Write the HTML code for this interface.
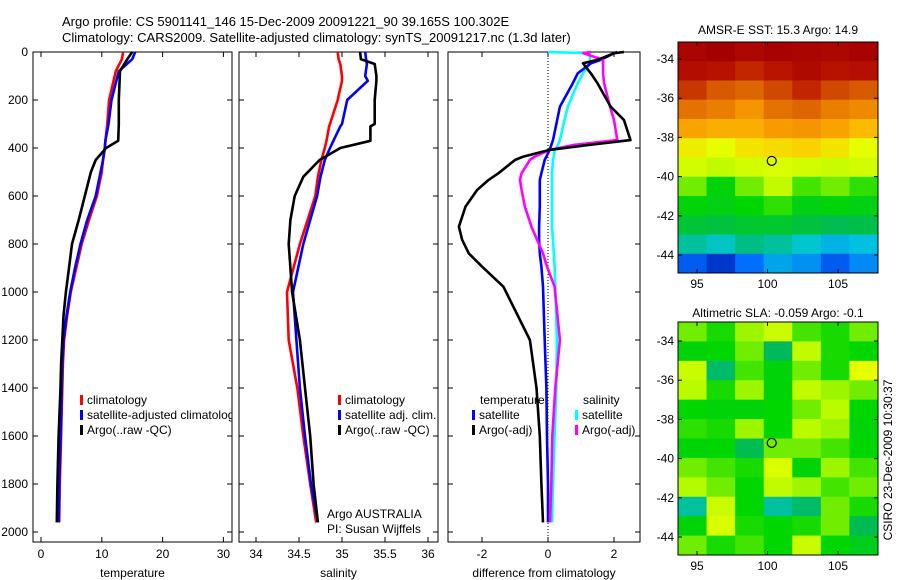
<!DOCTYPE html>
<html><head><meta charset="utf-8"><style>
body{margin:0;background:#fff;}
svg{display:block;font-family:"Liberation Sans",sans-serif;}
text{font-size:12px;fill:#000;}
</style></head><body>
<svg id="s" width="900" height="580">
<text x="62" y="26" style="font-size:13px">Argo profile: CS 5901141_146 15-Dec-2009 20091221_90 39.165S 100.302E</text>
<text x="62" y="42" style="font-size:13px">Climatology: CARS2009. Satellite-adjusted climatology: synTS_20091217.nc (1.3d later)</text>
<text x="778" y="34" text-anchor="middle">AMSR-E SST: 15.3 Argo: 14.9</text>
<text x="778" y="317" text-anchor="middle">Altimetric SLA: -0.059 Argo: -0.1</text>
<text transform="translate(892,460) rotate(-90)" text-anchor="middle">CSIRO 23-Dec-2009 10:30:37</text>
</svg>
<script>
// ---- data ----
const depthT=[0,30,80,200,300,370,400,450,500,600,700,800,900,1000,1100,1200,1300,1400,1600,1800,1960];
const tempClim=[13.5,13.3,12.3,11.2,10.9,10.6,10.5,10.2,10.0,9.2,7.9,6.7,5.8,4.9,4.3,3.8,3.6,3.5,3.3,3.1,3.0];
const tempSat=[15.5,15.0,12.8,11.6,11.1,10.6,10.5,10.2,9.8,9.0,7.6,6.5,5.6,4.8,4.2,3.7,3.5,3.4,3.2,3.0,2.9];
const tempArgo=[15.0,14.2,13.0,12.8,12.8,12.7,10.7,9.0,8.2,7.2,6.2,5.1,4.6,4.1,3.7,3.5,3.3,3.2,2.9,2.7,2.6];
const depthS=[0,30,50,100,120,200,300,310,370,400,450,520,600,700,800,1000,1200,1400,1600,1800,1960];
const salClim=[34.95,34.96,34.98,35.0,35.0,34.95,34.86,34.85,34.82,34.8,34.76,34.72,34.69,34.6,34.51,34.36,34.38,34.48,34.55,34.63,34.7];
const salSat=[35.27,35.28,35.29,35.27,35.3,35.06,35.0,34.98,34.9,34.86,34.8,34.75,34.71,34.63,34.55,34.43,34.47,34.51,34.57,34.64,34.72];
const salArgo=[35.21,35.22,35.38,35.4,35.4,35.38,35.38,35.33,35.33,34.98,34.74,34.55,34.45,34.4,34.38,34.42,34.51,34.57,34.63,34.67,34.72];
const depthD=[0,5,33,47,89,130,228,283,367,388,408,436,450,505,533,575,644,728,783,839,894,978,1200,1400,1600,1800,1960];
const diffArgoT=[2.3,2.0,1.5,1.06,1.3,1.5,1.9,2.3,2.5,1.2,0.05,-0.75,-1.0,-1.5,-1.8,-2.15,-2.5,-2.7,-2.6,-2.4,-2.0,-1.35,-0.55,-0.35,-0.25,-0.2,-0.15];
const diffArgoS=[1.3,1.07,1.67,1.67,1.67,1.7,1.88,2.0,2.1,0.75,0.05,-0.4,-0.55,-0.8,-0.85,-0.8,-0.7,-0.5,-0.33,-0.15,-0.03,0.2,0.36,0.22,0.13,0.1,0.06];
const diffSatT=[2.1,2.0,1.6,1.3,0.9,0.75,0.36,0.28,0.15,0.1,0.05,-0.05,-0.1,-0.2,-0.25,-0.25,-0.25,-0.27,-0.27,-0.25,-0.2,-0.15,-0.1,-0.05,-0.03,0,0];
const diffSatS=[0,1.27,1.27,1.27,1.06,0.9,0.6,0.5,0.36,0.3,0.2,0.18,0.15,0.12,0.12,0.12,0.12,0.12,0.15,0.18,0.2,0.22,0.27,0.25,0.2,0.15,0.12];
const depthTicks=[0,200,400,600,800,1000,1200,1400,1600,1800,2000];
const tempTicks=[0,10,20,30];
const salTicks=[34,34.5,35,35.5,36];
const diffTicks=[-2,0,2];
const latTicks=[-34,-36,-38,-40,-42,-44];
const lonTicks=[95,100,105];
const sstGrid=[
[0.98,1.0,0.97,0.99,0.98,0.97,0.99],
[0.95,0.93,0.9,0.92,0.96,0.93,0.94],
[0.88,0.84,0.82,0.86,0.9,0.86,0.84],
[0.8,0.78,0.74,0.8,0.82,0.78,0.76],
[0.72,0.7,0.7,0.73,0.74,0.72,0.68],
[0.62,0.6,0.63,0.64,0.65,0.63,0.6],
[0.57,0.55,0.57,0.58,0.57,0.56,0.57],
[0.5,0.44,0.5,0.55,0.48,0.5,0.47],
[0.44,0.43,0.45,0.47,0.43,0.44,0.43],
[0.39,0.38,0.4,0.4,0.38,0.36,0.37],
[0.3,0.27,0.32,0.3,0.26,0.22,0.24],
[0.1,0.06,0.12,0.2,0.17,0.1,0.16]];
const slaGrid=[
[0.5,0.46,0.52,0.56,0.48,0.46,0.5],
[0.44,0.45,0.5,0.35,0.55,0.46,0.45],
[0.56,0.34,0.48,0.44,0.5,0.46,0.6],
[0.54,0.46,0.52,0.44,0.55,0.52,0.5],
[0.45,0.44,0.44,0.45,0.5,0.54,0.45],
[0.47,0.46,0.52,0.45,0.54,0.52,0.44],
[0.44,0.45,0.36,0.5,0.5,0.48,0.45],
[0.5,0.48,0.46,0.58,0.44,0.52,0.48],
[0.53,0.5,0.45,0.55,0.52,0.48,0.5],
[0.3,0.56,0.45,0.3,0.34,0.5,0.46],
[0.44,0.58,0.46,0.45,0.46,0.5,0.36],
[0.5,0.46,0.48,0.45,0.56,0.45,0.42]];
const argoLon=100.3, argoLat=-39.2;

const NS='http://www.w3.org/2000/svg';
const svg=document.getElementById('s');
function mk(tag,attrs,parent){const e=document.createElementNS(NS,tag);for(const k in attrs)e.setAttribute(k,attrs[k]);(parent||svg).appendChild(e);return e;}
const Y0=52,Y1=542;
const yD=d=>Y0+d*48/200;
function panel(name,x0,x1,xf,ticks,showLabels,labelFmt,xlabel){
  const g=mk('g',{});
  
  
  mk('rect',{x:x0,y:Y0,width:x1-x0,height:Y1-Y0,fill:'#fff',stroke:'#000','stroke-width':1},g);
  depthTicks.forEach(d=>{const y=yD(d);
    mk('line',{x1:x0,x2:x0+5,y1:y,y2:y,stroke:'#000'},g);
    mk('line',{x1:x1,x2:x1-5,y1:y,y2:y,stroke:'#000'},g);
    if(showLabels){const t=mk('text',{x:28,y:y+4,'text-anchor':'end'},g);t.textContent=d;
      
      }
  });
  ticks.forEach(v=>{const x=xf(v);
    mk('line',{x1:x,x2:x,y1:Y1,y2:Y1-5,stroke:'#000'},g);
    mk('line',{x1:x,x2:x,y1:Y0,y2:Y0+5,stroke:'#000'},g);
    const t=mk('text',{x:x,y:Y1+16,'text-anchor':'middle'},g);t.textContent=labelFmt(v);
    
    
  });
  const t=mk('text',{x:(x0+x1)/2,y:577,'text-anchor':'middle'},g);t.textContent=xlabel;
  
  
  return g;
}
function line(g,xf,vals,depths,color,name){
  const p=vals.map((v,i)=>xf(v).toFixed(1)+','+yD(depths[i]).toFixed(1)).join(' ');
  const e=mk('polyline',{points:p,fill:'none',stroke:color,'stroke-width':2.6,'stroke-linejoin':'round'},g);
  
  
}
function legend(g,x,y,items){
  items.forEach((it,i)=>{const yy=y+i*15;
    mk('rect',{x:x,y:yy-9,width:3,height:10,fill:it[1]},g);
    const t=mk('text',{x:x+7,y:yy},g);t.textContent=it[0];
    
    
  });
}
const xT=v=>41+v*6.08;
let g1=panel('temperature-panel',33,232,xT,tempTicks,true,v=>v,'temperature');
line(g1,xT,tempClim,depthT,'#f00','temp-climatology-line');
line(g1,xT,tempSat,depthT,'#00f','temp-satellite-line');
line(g1,xT,tempArgo,depthT,'#000','temp-argo-line');
legend(g1,80,404,[['climatology','#f00'],['satellite-adjusted climatology','#00f'],['Argo(..raw -QC)','#000']]);
mk('rect',{x:232.5,y:395,width:6,height:40,fill:'#fff'});
mk('line',{x1:232,x2:232,y1:395,y2:435,stroke:'#000'});
const xS=v=>256+(v-34)*86;
let g2=panel('salinity-panel',239,438,xS,salTicks,false,v=>v,'salinity');
line(g2,xS,salClim,depthS,'#f00','sal-climatology-line');
line(g2,xS,salSat,depthS,'#00f','sal-satellite-line');
line(g2,xS,salArgo,depthS,'#000','sal-argo-line');
legend(g2,338,404,[['climatology','#f00'],['satellite adj. clim.','#00f'],['Argo(..raw -QC)','#000']]);
let t1=mk('text',{x:327,y:518},g2);t1.textContent='Argo AUSTRALIA';


let t2=mk('text',{x:327,y:533},g2);t2.textContent='PI: Susan Wijffels';


const xDf=v=>548+v*33;
let g3=panel('difference-panel',448,640,xDf,diffTicks,false,v=>v,'difference from climatology');
mk('line',{x1:xDf(0),x2:xDf(0),y1:Y0,y2:Y1,stroke:'#000','stroke-dasharray':'1,2'},g3);
line(g3,xDf,diffSatS,depthD,'#0ff','diff-sat-salinity-line');
line(g3,xDf,diffSatT,depthD,'#00f','diff-sat-temp-line');
line(g3,xDf,diffArgoS,depthD,'#f0f','diff-argo-salinity-line');
line(g3,xDf,diffArgoT,depthD,'#000','diff-argo-temp-line');
let lt=mk('text',{x:480,y:404},g3);lt.textContent='temperature';


let ls=mk('text',{x:583,y:404},g3);ls.textContent='salinity';


legend(g3,472,419,[['satellite','#00f'],['Argo(-adj)','#000']]);
legend(g3,575,419,[['satellite','#0ff'],['Argo(-adj)','#f0f']]);
// colormap
const cmapStops=[[0,[0,0,150]],[0.12,[0,110,255]],[0.25,[0,200,220]],[0.35,[0,185,90]],[0.45,[0,215,0]],[0.53,[180,250,0]],[0.6,[230,255,0]],[0.66,[255,200,0]],[0.74,[245,150,0]],[0.84,[215,90,0]],[0.92,[185,20,0]],[1,[165,0,0]]];
function cmap(v){
  for(let i=1;i<cmapStops.length;i++){
    if(v<=cmapStops[i][0]){const a=cmapStops[i-1],b=cmapStops[i];const f=(v-a[0])/(b[0]-a[0]);
      return 'rgb('+a[1].map((c,k)=>Math.round(c+(b[1][k]-c)*f)).join(',')+')';}
  }
  return 'rgb(165,0,0)';
}
function map(name,grid,top,lat0px,bot){
  const x0=678,x1=878;
  const lonX=l=>697+(l-95)*14.1;
  const latY=l=>lat0px+(-34-l)*(19.6);
  const g=mk('g',{});
  
  
  const rows=grid.length,cols=grid[0].length;
  const cw=(x1-x0)/cols,ch=(bot-top)/rows;
  grid.forEach((r,i)=>r.forEach((v,j)=>{
    const c=mk('rect',{x:x0+j*cw,y:top+i*ch,width:cw+0.5,height:ch+0.5,fill:cmap(v)},g);
    
    
  }));
  mk('rect',{x:x0,y:top,width:x1-x0,height:bot-top,fill:'none',stroke:'#000'},g);
  latTicks.forEach(l=>{const y=latY(l);
    mk('line',{x1:x0,x2:x0+4,y1:y,y2:y,stroke:'#000'},g);
    mk('line',{x1:x1,x2:x1-4,y1:y,y2:y,stroke:'#000'},g);
    const t=mk('text',{x:674,y:y+4,'text-anchor':'end'},g);t.textContent=l;
    
    });
  lonTicks.forEach(l=>{const x=lonX(l);
    mk('line',{x1:x,x2:x,y1:bot,y2:bot-4,stroke:'#000'},g);
    mk('line',{x1:x,x2:x,y1:top,y2:top+4,stroke:'#000'},g);
    const t=mk('text',{x:x,y:bot+15,'text-anchor':'middle'},g);t.textContent=l;
    
    });
  const c=mk('circle',{cx:lonX(argoLon),cy:latY(argoLat),r:4.5,fill:'none',stroke:'#000','stroke-width':1.2},g);
  
  
}
map('sst-map',sstGrid,42,59,273);
map('sla-map',slaGrid,322,341,555);
</script>
</body></html>
